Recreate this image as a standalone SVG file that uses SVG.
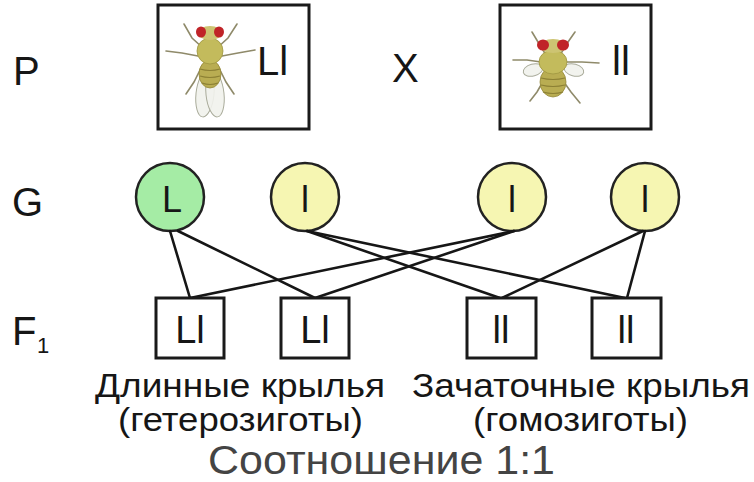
<svg xmlns="http://www.w3.org/2000/svg" width="754" height="482" viewBox="0 0 754 482">
  <style>
    .lbl { font-family: "Liberation Sans", Arial, sans-serif; fill: #161616; }
    .row { font-size: 40px; }
    .box { fill: #ffffff; stroke: #1a1a1a; stroke-width: 3; }
    .gam { stroke: #222; stroke-width: 2.5; }
    .gL { fill: #a5eca5; }
    .gl { fill: #f6f6b2; }
    .gtxt { font-size: 36px; text-anchor: middle; }
    .ftxt { font-size: 38px; text-anchor: middle; }
    .cap { font-size: 34px; }
    .edge { stroke: #161616; stroke-width: 2.6; fill: none; stroke-linecap: round; }
    .leg { stroke: #8f8a6a; stroke-width: 1.6; fill: none; stroke-linecap: round; }
    .head { fill: #cdc472; }
    .eye { fill: #c02428; }
    .thorax { fill: #c3bb5c; stroke: #9e9640; stroke-width: 0.8; }
    .abd { fill: #b9ad52; stroke: #948838; stroke-width: 0.8; }
    .stripe { stroke: #8c8034; stroke-width: 1.2; fill: none; }
    .wing { fill: #f1f2ec; fill-opacity: 0.9; stroke: #a9ab9a; stroke-width: 1; }
  </style>

  <rect width="754" height="482" fill="#ffffff"/>

  <!-- row labels -->
  <text class="lbl row" x="13" y="85">P</text>
  <text class="lbl row" x="392" y="82" font-size="44">X</text>
  <text class="lbl row" x="12" y="216">G</text>
  <text class="lbl row" x="12" y="345">F</text>
  <text class="lbl" x="37" y="353" font-size="22">1</text>

  <!-- parent 1: long wings, Ll -->
  <g id="parent-Ll">
    <rect class="box" x="158" y="5" width="151" height="124"/>
    <g id="fly-long">
      <path class="leg" d="M203 48 L192 38 L184 24"/>
      <path class="leg" d="M217 48 L228 38 L237 24"/>
      <path class="leg" d="M198 56 L182 53 L166 51"/>
      <path class="leg" d="M222 56 L238 53 L255 50"/>
      <path class="leg" d="M202 66 L194 82 L186 94"/>
      <path class="leg" d="M218 66 L226 82 L234 94"/>
      <ellipse class="wing" cx="205" cy="94" rx="9" ry="23" transform="rotate(6 205 94)"/>
      <ellipse class="wing" cx="215" cy="94" rx="9" ry="23" transform="rotate(-6 215 94)"/>
      <ellipse class="abd" cx="210" cy="74" rx="11" ry="14"/>
      <path class="stripe" d="M200 69 Q210 72 220 69 M200 76 Q210 79 220 76 M202 83 Q210 86 218 83"/>
      <ellipse class="thorax" cx="210" cy="51" rx="13" ry="13"/>
      <ellipse class="head" cx="210" cy="33" rx="12" ry="7"/>
      <ellipse class="eye" cx="201" cy="32" rx="5" ry="5.5"/>
      <ellipse class="eye" cx="219" cy="32" rx="5" ry="5.5"/>
    </g>
    <text class="lbl" x="257" y="75" font-size="40">Ll</text>
  </g>

  <!-- parent 2: vestigial wings, ll -->
  <g id="parent-ll">
    <rect class="box" x="500" y="5" width="151" height="124"/>
    <g id="fly-vestigial">
      <path class="leg" d="M546 55 L538 42 L532 32"/>
      <path class="leg" d="M560 55 L568 42 L575 32"/>
      <path class="leg" d="M541 62 L527 60 L513 60"/>
      <path class="leg" d="M565 62 L582 62 L599 63"/>
      <path class="leg" d="M545 78 L537 92 L530 101"/>
      <path class="leg" d="M561 78 L571 92 L580 103"/>
      <ellipse class="wing" cx="533" cy="70" rx="10" ry="6" transform="rotate(-15 533 70)"/>
      <ellipse class="wing" cx="574" cy="70" rx="10" ry="6" transform="rotate(15 574 70)"/>
      <ellipse class="abd" cx="553" cy="82" rx="13" ry="15"/>
      <path class="stripe" d="M541 78 Q553 81 565 78 M541 85 Q553 88 565 85 M543 92 Q553 95 563 92"/>
      <ellipse class="thorax" cx="553" cy="62" rx="14" ry="12"/>
      <ellipse class="head" cx="553" cy="46" rx="13" ry="7"/>
      <ellipse class="eye" cx="543" cy="45" rx="6" ry="5.5"/>
      <ellipse class="eye" cx="563" cy="45" rx="6" ry="5.5"/>
    </g>
    <text class="lbl" x="612" y="75" font-size="40">ll</text>
  </g>

  <!-- gametes -->
  <g id="gamete-L">
    <circle class="gam gL" cx="170" cy="197" r="34"/>
    <text class="lbl gtxt" x="172" y="212">L</text>
  </g>
  <g id="gamete-l1">
    <circle class="gam gl" cx="305" cy="197" r="34"/>
    <text class="lbl gtxt" x="305" y="212">l</text>
  </g>
  <g id="gamete-l2">
    <circle class="gam gl" cx="512" cy="197" r="34"/>
    <text class="lbl gtxt" x="512" y="212">l</text>
  </g>
  <g id="gamete-l3">
    <circle class="gam gl" cx="645" cy="197" r="34"/>
    <text class="lbl gtxt" x="645" y="212">l</text>
  </g>

  <!-- crosses from gametes to offspring -->
  <g id="connectors">
    <line class="edge" x1="170" y1="231" x2="190" y2="298"/>
    <line class="edge" x1="178" y1="231" x2="315" y2="298"/>
    <line class="edge" x1="307" y1="231" x2="500" y2="298"/>
    <line class="edge" x1="307" y1="231" x2="625" y2="298"/>
    <line class="edge" x1="514" y1="231" x2="190" y2="298"/>
    <line class="edge" x1="514" y1="231" x2="315" y2="298"/>
    <line class="edge" x1="643" y1="231" x2="502" y2="298"/>
    <line class="edge" x1="645" y1="231" x2="627" y2="298"/>
  </g>

  <!-- F1 offspring -->
  <g id="f1-Ll-a">
    <rect class="box" x="156" y="298" width="68" height="60"/>
    <text class="lbl ftxt" x="190" y="343">Ll</text>
  </g>
  <g id="f1-Ll-b">
    <rect class="box" x="281" y="298" width="68" height="60"/>
    <text class="lbl ftxt" x="315" y="343">Ll</text>
  </g>
  <g id="f1-ll-a">
    <rect class="box" x="467" y="298" width="69" height="60"/>
    <text class="lbl ftxt" x="501" y="343">ll</text>
  </g>
  <g id="f1-ll-b">
    <rect class="box" x="592" y="298" width="69" height="60"/>
    <text class="lbl ftxt" x="626" y="343">ll</text>
  </g>

  <!-- captions -->
  <text class="lbl cap" x="95" y="397" textLength="290" lengthAdjust="spacingAndGlyphs">Длинные крылья</text>
  <text class="lbl cap" x="412" y="397" textLength="338" lengthAdjust="spacingAndGlyphs">Зачаточные крылья</text>
  <text class="lbl cap" x="118" y="431" textLength="245" lengthAdjust="spacingAndGlyphs">(гетерозиготы)</text>
  <text class="lbl cap" x="473" y="431" textLength="215" lengthAdjust="spacingAndGlyphs">(гомозиготы)</text>
  <text class="lbl" x="208" y="474" font-size="40" style="fill:#444444" textLength="347" lengthAdjust="spacingAndGlyphs">Соотношение 1:1</text>
</svg>
